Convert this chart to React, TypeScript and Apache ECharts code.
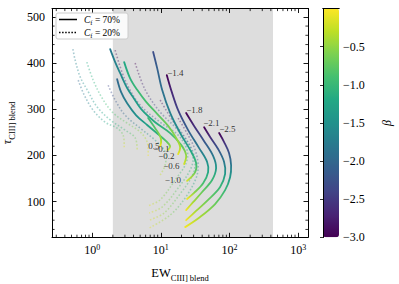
import React, { useEffect, useRef } from 'react';
import * as echarts from 'echarts';

// ---- axes ----
const xMin = 0.26;
const xMax = 1390;
const yMin = 23;
const yMax = 518;
const betaMin = -3;
const betaMax = 0;
const shadeRange = [2, 430];
const xMinorTicks = [0.3, 0.4, 0.5, 0.6, 0.7, 0.8, 0.9, 2, 3, 4, 5, 6, 7, 8, 9, 20, 30, 40, 50, 60, 70, 80, 90, 200, 300, 400, 500, 600, 700, 800, 900];
const yMinorTicks = [40, 60, 80, 120, 140, 160, 180, 220, 240, 260, 280, 320, 340, 360, 380, 420, 440, 460, 480];
const viridisStops = ['#440154', '#482475', '#414487', '#355f8d', '#2a788e', '#21918c', '#22a884', '#44bf70', '#7ad151', '#bddf26', '#fde725'];

// ---- solid curves, C_f = 70%: [EW, tau, beta] ----
const solidM14 = [[12.2, 374, -3.0], [14.1, 342, -2.7], [17.85, 298, -2.4], [24.96, 255, -2.1], [36.1, 216, -1.8], [47.2, 186, -1.5], [48.8, 164, -1.2], [41.3, 140, -0.9], [30.5, 119, -0.5], [24.1, 106, -0.05]];
const solidM18 = [[23.35, 292, -3.0], [30.5, 264, -2.6], [42.7, 231, -2.2], [57.7, 199, -1.8], [63.8, 173, -1.4], [55.8, 147, -1.0], [39.9, 121, -0.7], [29.5, 99, -0.4], [23.35, 82, -0.05]];
const solidM21 = [[42.7, 261, -3.0], [52.2, 240, -2.6], [68.2, 214, -2.2], [83.4, 186, -1.8], [86.3, 160, -1.4], [73, 132, -1.0], [48.8, 104, -0.7], [32.6, 80, -0.4], [23.35, 60, -0.05]];
const solidM25 = [[70.6, 248.5, -3.0], [83.4, 229, -2.6], [98.6, 205, -2.2], [105.5, 179, -1.8], [102, 153, -1.4], [86.3, 125, -1.0], [61.7, 95, -0.7], [37.3, 67, -0.4], [22.6, 45, -0.05]];
const solidM10 = [[7.73, 424, -2.3], [8.84, 389, -2.1], [10.44, 342, -1.9], [13.66, 292, -1.7], [19.1, 248.5, -1.5], [26.7, 212, -1.25], [32.6, 184, -1.0], [31.6, 164, -0.7], [24.1, 145, -0.2]];
const solidM06 = [[1.828, 430, -1.8], [2.162, 402, -1.7], [2.556, 378, -1.6], [3.23, 346, -1.5], [3.95, 326, -1.4], [5.34, 298, -1.3], [8.26, 272, -1.15], [13.66, 248.5, -1.0], [19.75, 223, -0.8], [23.35, 201, -0.5], [21.8, 181.5, -0.2]];
const solidM02 = [[2.923, 402, -1.2], [3.57, 367, -1.1], [4.52, 342, -1.0], [6.11, 316, -0.9], [8.84, 290, -0.8], [12.77, 264, -0.65], [16.7, 238, -0.5], [19.1, 218, -0.35], [17.85, 203, -0.1]];
const solidM01 = [[2.31, 365, -2.0], [2.64, 337, -1.85], [3.23, 313, -1.7], [4.37, 287, -1.5], [6.32, 266, -1.3], [9.14, 246, -1.1], [11.94, 231, -0.8], [13.66, 220, -0.5], [12.77, 212, -0.1]];
const solidP05 = [[6.53, 281, -1.0], [8.26, 259, -0.8], [9.77, 242, -0.5], [10.1, 229, -0.3], [9.77, 220, 0]];

// ---- dotted curves, C_f = 20% ----
const dotM14 = [[2.16, 428, -3.0], [3.02, 363, -2.6], [5.0, 309, -2.3], [9.77, 272, -2.0], [17.85, 244, -1.7], [24.1, 212, -1.4], [23.35, 184, -1.1], [16.15, 147, -0.8], [9.77, 104, -0.5], [6.53, 91, -0.1]];
const dotM18 = [[4.23, 400, -3.0], [5.91, 342, -2.6], [9.77, 294, -2.3], [16.7, 259, -2.0], [24.96, 227, -1.7], [29.5, 194.5, -1.4], [26.7, 168.5, -1.1], [17.85, 129.6, -0.8], [10.44, 88.5, -0.5], [6.76, 75.6, -0.1]];
const dotM21 = [[9.77, 320, -3.0], [14.6, 277, -2.6], [21.8, 242, -2.2], [28.55, 212, -1.8], [31.6, 181.5, -1.4], [28.55, 155.6, -1.1], [19.1, 117, -0.8], [11.17, 75.6, -0.5], [6.76, 60, -0.1]];
const dotM25 = [[17.85, 281, -3.0], [24.96, 244, -2.6], [31.6, 212, -2.2], [34.9, 179, -1.8], [32.6, 151, -1.4], [22.6, 108, -1.0], [13.66, 71, -0.6], [6.76, 43, -0.1]];
const dotM10 = [[1.71, 352, -2.4], [2.162, 320, -2.2], [3.02, 287, -2.0], [5.0, 259, -1.7], [8.26, 233, -1.4], [11.55, 207.5, -1.0], [11.55, 179, -0.6], [9.77, 157.7, -0.2]];
const dotM06 = [[0.524, 430, -1.8], [0.566, 406, -1.7], [0.669, 370, -1.6], [0.846, 342, -1.5], [1.182, 305, -1.4], [1.828, 277, -1.2], [3.02, 255, -1.0], [4.23, 238, -0.7], [4.52, 212, -0.2]];
const dotM02 = [[0.837, 402, -1.2], [1.034, 363, -1.1], [1.398, 324, -1.0], [2.022, 292, -0.9], [3.23, 270, -0.7], [5.0, 251, -0.5], [6.32, 229, -0.3], [6.53, 197, 0]];
const dotM01 = [[0.626, 363, -2.0], [0.765, 331, -1.8], [1.034, 298, -1.6], [1.546, 272, -1.3], [2.31, 259, -1.0], [2.826, 244, -0.6], [2.923, 218, -0.1]];

// ---- curve labels ----
const labelTexts = ['\u22121.4', '\u22121.8', '\u22122.1', '\u22122.5', '0.5', '\u22120.1', '\u22120.2', '\u22120.6', '\u22121.0'];
const labelX = [12.35, 23.35, 41.3, 70.6, 6.53, 7.73, 9.14, 10.8, 11.36];
const labelY = [378, 298, 270, 257, 221, 214, 199, 177, 147];

const FONT = 'Liberation Serif';

function hexToRgb(h: string) {
  return [parseInt(h.slice(1, 3), 16), parseInt(h.slice(3, 5), 16), parseInt(h.slice(5, 7), 16)];
}
function viridis(t: number) {
  const c = Math.max(0, Math.min(1, t));
  const s = c * (viridisStops.length - 1);
  const i = Math.min(viridisStops.length - 2, Math.floor(s));
  const f = s - i;
  const a = hexToRgb(viridisStops[i]);
  const b = hexToRgb(viridisStops[i + 1]);
  const m = a.map((v, k) => Math.round(v + (b[k] - v) * f));
  return `rgb(${m[0]},${m[1]},${m[2]})`;
}

function curveSeries(curve: number[][], dotted: boolean) {
  return {
    type: 'custom',
    xAxisIndex: 0,
    yAxisIndex: 0,
    z: dotted ? 2 : 3,
    silent: true,
    data: curve,
    encode: { x: 0, y: 1 },
    renderItem: (params: any, api: any) => {
      if (params.dataIndex !== 0) return null;
      const pts = curve.map((p) => api.coord([p[0], p[1]]));
      const y0 = pts[0][1];
      const y1 = pts[pts.length - 1][1];
      const stops = curve.map((p, i) => ({
        offset: Math.max(0, Math.min(1, (pts[i][1] - y0) / (y1 - y0))),
        color: viridis((p[2] - betaMin) / (betaMax - betaMin)),
      }));
      const grad = new echarts.graphic.LinearGradient(0, y0, 0, y1, stops, true);
      return {
        type: 'polyline',
        shape: { points: pts, smooth: 0.35 },
        style: {
          fill: 'none',
          stroke: grad,
          lineWidth: dotted ? 1.6 : 1.8,
          lineDash: dotted ? [1.6, 1.9] : null,
          lineCap: dotted ? 'butt' : 'round',
          opacity: dotted ? 0.4 : 1,
        },
      };
    },
  };
}

function buildOption() {
  const dotted = [dotM14, dotM18, dotM21, dotM25, dotM10, dotM06, dotM02, dotM01];
  const solid = [solidM14, solidM18, solidM21, solidM25, solidM10, solidM06, solidM02, solidM01, solidP05];
  const series: any[] = [];
  series.push({
    type: 'custom',
    xAxisIndex: 0,
    yAxisIndex: 0,
    z: 1,
    silent: true,
    data: [[shadeRange[0], shadeRange[1], yMin, yMax]],
    encode: { x: [0, 1], y: [2, 3] },
    renderItem: (params: any, api: any) => {
      const a = api.coord([api.value(0), api.value(3)]);
      const b = api.coord([api.value(1), api.value(2)]);
      return { type: 'rect', shape: { x: a[0], y: a[1], width: b[0] - a[0], height: b[1] - a[1] }, style: { fill: '#dddddd' } };
    },
  });
  dotted.forEach((c) => series.push(curveSeries(c, true)));
  const firstSolid = series.length;
  solid.forEach((c) => series.push(curveSeries(c, false)));
  series.push({
    type: 'scatter',
    xAxisIndex: 0,
    yAxisIndex: 0,
    z: 5,
    silent: true,
    symbolSize: 0,
    itemStyle: { color: '#000' },
    data: labelTexts.map((t, i) => ({ name: t, value: [labelX[i], labelY[i]] })),
    label: { show: true, position: 'right', distance: 0, formatter: '{b}', fontSize: 9, fontFamily: FONT, color: '#000' },
  });
  series.push({
    type: 'custom',
    xAxisIndex: 0,
    yAxisIndex: 0,
    z: 6,
    silent: true,
    data: xMinorTicks.map((v) => [v, yMin]),
    encode: { x: 0, y: 1 },
    renderItem: (params: any, api: any) => {
      const v = api.value(0);
      const b = api.coord([v, yMin]);
      const t = api.coord([v, yMax]);
      const st = { stroke: '#000', lineWidth: 0.8 };
      return {
        type: 'group',
        children: [
          { type: 'line', shape: { x1: b[0], y1: b[1], x2: b[0], y2: b[1] - 2.6 }, style: st },
          { type: 'line', shape: { x1: t[0], y1: t[1], x2: t[0], y2: t[1] + 2.6 }, style: st },
        ],
      };
    },
  });
  series.push({
    type: 'custom',
    xAxisIndex: 0,
    yAxisIndex: 0,
    z: 6,
    silent: true,
    data: yMinorTicks.map((v) => [xMin, v]),
    encode: { x: 0, y: 1 },
    renderItem: (params: any, api: any) => {
      const v = api.value(1);
      const l = api.coord([xMin, v]);
      const r = api.coord([xMax, v]);
      const st = { stroke: '#000', lineWidth: 0.8 };
      return {
        type: 'group',
        children: [
          { type: 'line', shape: { x1: l[0], y1: l[1], x2: l[0] + 2.6, y2: l[1] }, style: st },
          { type: 'line', shape: { x1: r[0], y1: r[1], x2: r[0] - 2.6, y2: r[1] }, style: st },
        ],
      };
    },
  });

  const axisLine = { show: true, lineStyle: { color: '#000', width: 1 } };
  const majorTick = { show: true, inside: true, length: 4.5, lineStyle: { color: '#000', width: 0.9 } };
  const gridTop = 8.5;
  const gridBottom = 46.7;

  return {
    animation: false,
    backgroundColor: '#fff',
    grid: [
      { left: 52, right: 91, top: gridTop, bottom: gridBottom, containLabel: false, outerBoundsMode: 'none' },
      { left: 323, width: 16, top: gridTop, bottom: gridBottom, containLabel: false, outerBoundsMode: 'none' },
    ],
    xAxis: [
      {
        gridIndex: 0, type: 'log', logBase: 10, min: xMin, max: xMax, position: 'bottom', z: 10,
        axisLine, axisTick: majorTick, splitLine: { show: false },
        axisLabel: {
          showMinLabel: false, showMaxLabel: false, margin: 6, color: '#000', fontFamily: FONT, fontSize: 12,
          formatter: (v: number) => `10{s|${Math.round(Math.log10(v))}}`,
          rich: { s: { fontSize: 8, fontFamily: FONT, color: '#000', verticalAlign: 'top', lineHeight: 14 } },
        },
        name: '{a|EW}{s|CIII] blend}', nameLocation: 'middle', nameGap: 27,
        nameTextStyle: {
          rich: {
            a: { fontSize: 12.5, fontFamily: FONT, color: '#000', lineHeight: 18, verticalAlign: 'middle' },
            s: { fontSize: 8.5, fontFamily: FONT, color: '#000', lineHeight: 10, verticalAlign: 'bottom' },
          },
        },
      },
      {
        gridIndex: 0, type: 'log', logBase: 10, min: xMin, max: xMax, position: 'top', z: 10,
        axisLine, axisTick: majorTick, axisLabel: { show: false }, splitLine: { show: false },
      },
      { gridIndex: 1, type: 'value', min: 0, max: 1, position: 'bottom', z: 10, axisLine, axisTick: { show: false }, axisLabel: { show: false }, splitLine: { show: false } },
      { gridIndex: 1, type: 'value', min: 0, max: 1, position: 'top', z: 10, axisLine, axisTick: { show: false }, axisLabel: { show: false }, splitLine: { show: false } },
    ],
    yAxis: [
      {
        gridIndex: 0, type: 'value', min: yMin, max: yMax, splitNumber: 5, position: 'left', z: 10,
        axisLine, axisTick: majorTick, splitLine: { show: false },
        axisLabel: { showMinLabel: false, showMaxLabel: false, margin: 7, color: '#000', fontFamily: FONT, fontSize: 12 },
        name: '{a|\u03c4}{s|CIII] blend}', nameLocation: 'middle', nameGap: 31, nameRotate: 90,
        nameTextStyle: {
          rich: {
            a: { fontSize: 12.5, fontFamily: FONT, fontStyle: 'italic', color: '#000', lineHeight: 18, verticalAlign: 'middle' },
            s: { fontSize: 8.5, fontFamily: FONT, color: '#000', lineHeight: 10, verticalAlign: 'bottom' },
          },
        },
      },
      {
        gridIndex: 0, type: 'value', min: yMin, max: yMax, splitNumber: 5, position: 'right', z: 10,
        axisLine, axisTick: majorTick, axisLabel: { show: false }, splitLine: { show: false },
      },
      {
        gridIndex: 1, type: 'value', min: betaMin, max: betaMax, interval: 0.5, position: 'right', z: 10,
        axisLine, axisTick: { show: true, inside: true, length: 3, lineStyle: { color: '#000', width: 0.8 } }, splitLine: { show: false },
        axisLabel: {
          showMaxLabel: false, margin: 4, color: '#000', fontFamily: FONT, fontSize: 12,
          formatter: (v: number) => (v < 0 ? '\u2212' + Math.abs(v).toFixed(1) : v.toFixed(1)),
        },
        name: '\u03b2', nameLocation: 'middle', nameGap: 42, nameRotate: 90,
        nameTextStyle: { fontSize: 12, fontFamily: FONT, fontStyle: 'italic', color: '#000' },
      },
      { gridIndex: 1, type: 'value', min: betaMin, max: betaMax, position: 'left', z: 10, axisLine, axisTick: { show: false }, axisLabel: { show: false }, splitLine: { show: false } },
    ],
    visualMap: {
      type: 'continuous', min: betaMin, max: betaMax, dimension: 2, seriesIndex: [firstSolid],
      left: 323, top: gridTop, itemWidth: 16, itemHeight: 284 - gridBottom - gridTop, padding: 0,
      calculable: false, hoverLink: false, text: null, orient: 'vertical', z: 3,
      inRange: { color: viridisStops },
    },
    graphic: [
      { type: 'rect', z: 20, shape: { x: 56, y: 13, width: 72, height: 26, r: 2 }, style: { fill: 'rgba(255,255,255,0.85)', stroke: '#cccccc', lineWidth: 1 } },
      { type: 'line', z: 21, shape: { x1: 59, y1: 19.5, x2: 77, y2: 19.5 }, style: { stroke: '#000', lineWidth: 1.5 } },
      { type: 'line', z: 21, shape: { x1: 59, y1: 32.5, x2: 77, y2: 32.5 }, style: { stroke: '#000', lineWidth: 1.5, lineDash: [1.5, 1.6] } },
      {
        type: 'text', z: 21, x: 84, y: 19.5,
        style: {
          text: '{i|C}{s|f} = 70%', fontSize: 9.5, fontFamily: FONT, fill: '#000', verticalAlign: 'middle',
          rich: { i: { fontSize: 9.5, fontFamily: FONT, fontStyle: 'italic', lineHeight: 12, verticalAlign: 'middle' }, s: { fontSize: 6.5, fontFamily: FONT, lineHeight: 8, verticalAlign: 'bottom' } },
        },
      },
      {
        type: 'text', z: 21, x: 84, y: 32.5,
        style: {
          text: '{i|C}{s|f} = 20%', fontSize: 9.5, fontFamily: FONT, fill: '#000', verticalAlign: 'middle',
          rich: { i: { fontSize: 9.5, fontFamily: FONT, fontStyle: 'italic', lineHeight: 12, verticalAlign: 'middle' }, s: { fontSize: 6.5, fontFamily: FONT, lineHeight: 8, verticalAlign: 'bottom' } },
        },
      },
    ],
    series,
  };
}

export default function App() {
  const ref = useRef<HTMLDivElement>(null);
  useEffect(() => {
    const chart = echarts.init(ref.current as HTMLDivElement, null, { renderer: 'svg' });
    chart.setOption(buildOption() as any);
    return () => chart.dispose();
  }, []);
  return <div ref={ref} style={{ position: 'fixed', left: 0, top: 0, width: 399, height: 284, background: '#fff' }} />;
}
